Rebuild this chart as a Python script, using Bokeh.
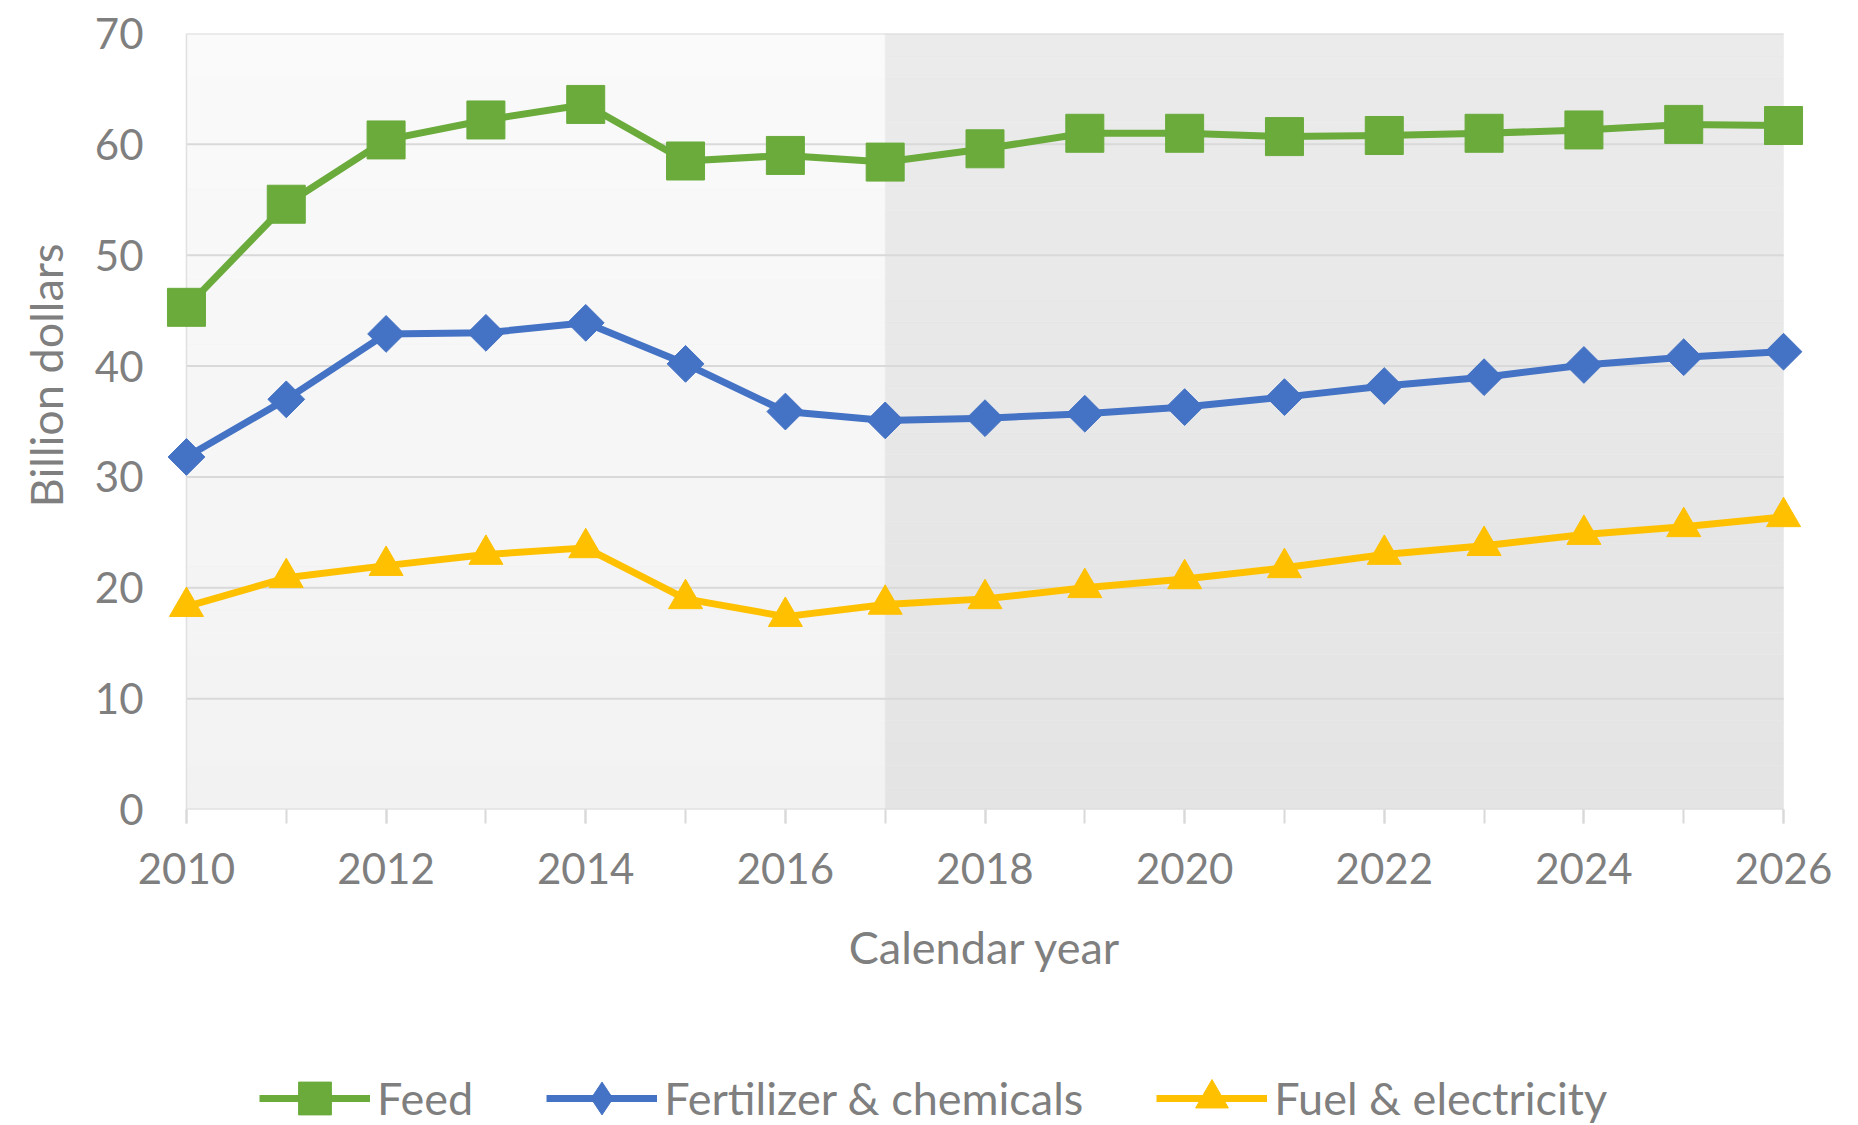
import math
from bokeh.plotting import figure
from bokeh.layouts import column
from bokeh.models import (Range1d, FixedTicker, Legend, LegendItem, Title,
                          ColumnDataSource)
from bokeh.embed import file_html
from bokeh.resources import INLINE

# ---- data: farm production expenses, billion dollars ----
years = list(range(2010, 2027))
feed = [45.3, 54.6, 60.4, 62.2, 63.6, 58.5, 59.0, 58.4, 59.6, 61.0,
        61.0, 60.7, 60.8, 61.0, 61.3, 61.8, 61.7]
fertilizer = [31.8, 37.0, 42.9, 43.0, 43.9, 40.2, 35.9, 35.1, 35.3, 35.7,
              36.3, 37.2, 38.2, 39.0, 40.1, 40.8, 41.3]
fuel = [18.3, 20.9, 22.0, 23.0, 23.6, 19.0, 17.4, 18.5, 19.0, 20.0,
        20.8, 21.8, 23.0, 23.8, 24.8, 25.5, 26.4]
series_labels = ["Feed", "Fertilizer & chemicals", "Fuel & electricity"]
y_ticks = [0, 10, 20, 30, 40, 50, 60, 70]
x_label_years = [2010, 2012, 2014, 2016, 2018, 2020, 2022, 2024, 2026]
projection_start = 2017

# ---- styling ----
FONT = "Lato"
TEXT_GRAY = "#7f7f7f"
GRID_GRAY = "#d9d9d9"
COLORS = ["#6aab3c", "#4472c4", "#ffc000"]
LINE_W = 7

W = 1858
CHART_H, LEGEND_H = 1045, 80
x0, x1 = years[0], years[-1]
pad = 0.25  # room so the end markers are not cut by the frame

p = figure(width=W, height=CHART_H,
           x_range=Range1d(x0 - pad, x1 + pad), y_range=Range1d(0, 70),
           output_backend="svg", toolbar_location=None,
           min_border_left=161, min_border_right=50,
           min_border_top=33, min_border_bottom=236)
p.outline_line_color = None
p.background_fill_color = "white"
p.border_fill_color = "white"
p.xgrid.visible = False
p.ygrid.visible = False


def mix(c_bot, c_top, t):
    v = round(c_bot + (c_top - c_bot) * t)
    return "#%02x%02x%02x" % (v, v, v)


# shaded plot area: history (light) and projection (darker), soft vertical fade
n_bands = 35
ymax = y_ticks[-1]
band = dict(left=[], right=[], bottom=[], top=[], color=[])
for i in range(n_bands):
    b = ymax * i / n_bands
    t = ymax * (i + 1) / n_bands
    f = (i + 0.5) / n_bands
    for l, r, cb, ct in ((x0, projection_start, 0xf2, 0xfa),
                         (projection_start, x1, 0xe4, 0xeb)):
        band["left"].append(l)
        band["right"].append(r)
        band["bottom"].append(b)
        band["top"].append(t)
        band["color"].append(mix(cb, ct, f))
p.quad(left="left", right="right", bottom="bottom", top="top",
       fill_color="color", line_color="color", line_width=0.5,
       source=ColumnDataSource(band), level="image")

# horizontal gridlines (the 0 line doubles as the x axis baseline)
p.segment(x0=[x0] * len(y_ticks), x1=[x1] * len(y_ticks),
          y0=y_ticks, y1=y_ticks, line_color=GRID_GRAY, line_width=2,
          level="underlay")
# left edge of the plot area
p.segment(x0=[x0], x1=[x0], y0=[0], y1=[ymax], line_color="#e0e0e0",
          line_width=1.5, level="underlay")

# ---- axes ----
xa = p.xaxis[0]
xa.ticker = FixedTicker(ticks=x_label_years, minor_ticks=years)
xa.axis_line_color = None
xa.major_tick_line_color = GRID_GRAY
xa.minor_tick_line_color = GRID_GRAY
xa.major_tick_line_width = 2
xa.minor_tick_line_width = 2
xa.major_tick_in = 0
xa.major_tick_out = 14
xa.minor_tick_in = 0
xa.minor_tick_out = 14
xa.major_label_text_font = FONT
xa.major_label_text_font_size = "42px"
xa.major_label_text_color = TEXT_GRAY
xa.major_label_standoff = 29
xa.axis_label = "Calendar year"
xa.axis_label_text_font = FONT
xa.axis_label_text_font_size = "45px"
xa.axis_label_text_font_style = "normal"
xa.axis_label_text_color = TEXT_GRAY
xa.axis_label_standoff = 33

ya = p.yaxis[0]
ya.ticker = FixedTicker(ticks=y_ticks, minor_ticks=[])
ya.axis_line_color = None
ya.major_tick_in = 0
ya.major_tick_out = 0
ya.minor_tick_in = 0
ya.minor_tick_out = 0
ya.major_label_text_font = FONT
ya.major_label_text_font_size = "42px"
ya.major_label_text_color = TEXT_GRAY
ya.major_label_standoff = 18

p.add_layout(Title(text="Billion dollars", align="right", offset=210,
                   vertical_align="top", standoff=34,
                   text_font=FONT, text_font_size="45px",
                   text_font_style="normal", text_color=TEXT_GRAY), "left")

# ---- series ----
specs = [
    (feed, "square", 38, 0.0),
    (fertilizer, "square", 26, math.pi / 4),
    (fuel, "triangle", 34, 0.0),
]
for (vals, marker, size, ang), color in zip(specs, COLORS):
    src = ColumnDataSource(dict(year=years, value=vals))
    p.line("year", "value", source=src, line_color=color, line_width=LINE_W,
           line_join="round")
    p.scatter("year", "value", source=src, marker=marker, size=size,
              angle=ang, fill_color=color, line_color=color)

# ---- legend strip below the chart ----
# The strip's ranges keep its copies of the series out of view, so only the
# legend entries show.
lf = figure(width=W, height=LEGEND_H, x_range=Range1d(0, 1),
            y_range=Range1d(0, 1), x_axis_type=None, y_axis_type=None,
            output_backend="svg", toolbar_location=None,
            min_border=0)
lf.outline_line_color = None
lf.grid.visible = False
legend_markers = ["square", "diamond", "triangle"]
items = []
for (vals, _, _, _), color, mk, name in zip(specs, COLORS, legend_markers,
                                             series_labels):
    src = ColumnDataSource(dict(year=years, value=vals))
    rl = lf.line("year", "value", source=src, line_color=color,
                 line_width=LINE_W)
    rm = lf.scatter("year", "value", source=src, marker=mk, size=10,
                    fill_color=color, line_color=color)
    items.append(LegendItem(label=name, renderers=[rl, rm]))

legend = Legend(items=items, orientation="horizontal", location=(98, -14),
                padding=0, margin=0, spacing=73, label_standoff=7,
                glyph_width=111, glyph_height=82,
                label_text_font=FONT, label_text_font_size="45px",
                label_text_color=TEXT_GRAY,
                border_line_color=None, background_fill_alpha=0)
lf.add_layout(legend, "center")

open("out.html", "w").write(file_html(column(p, lf), INLINE))
